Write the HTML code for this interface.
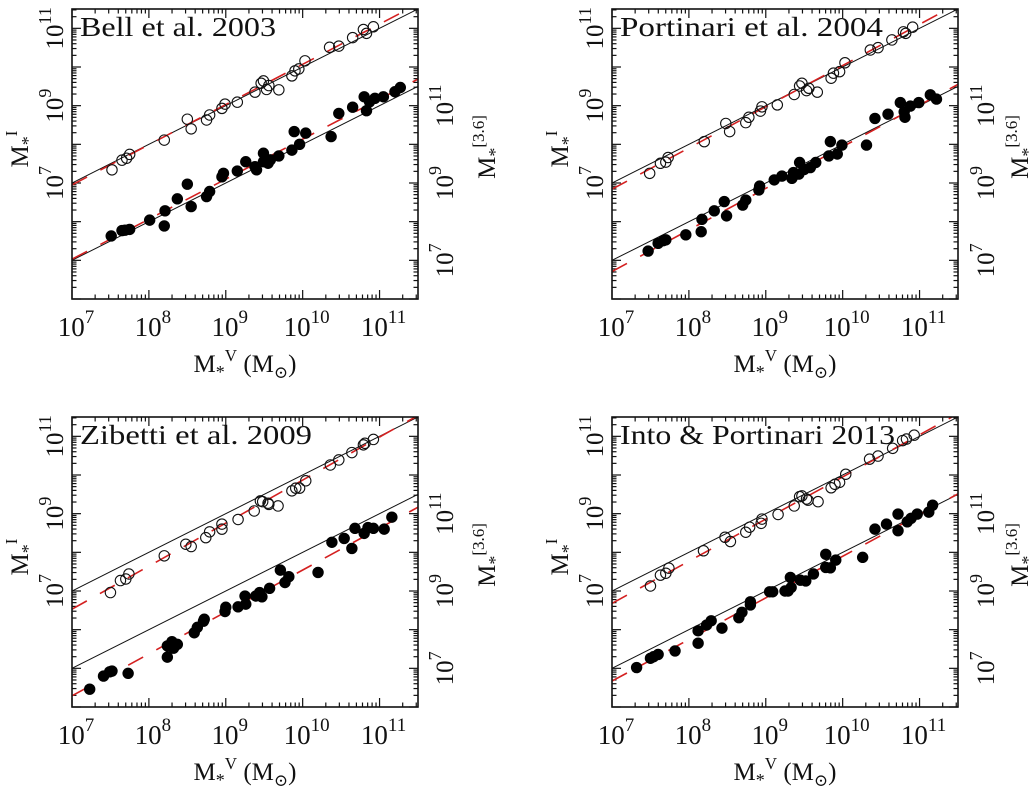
<!DOCTYPE html>
<html><head><meta charset="utf-8"><title>Stellar mass comparison</title>
<style>
html,body{margin:0;padding:0;background:#fff;}
svg{display:block;}
text{font-family:"Liberation Serif","DejaVu Serif",serif;fill:#111;}
</style></head>
<body>
<svg id="fig" width="1036" height="789" viewBox="0 0 1036 789" xmlns="http://www.w3.org/2000/svg"></svg>
<script>
// ---- data (log10 solar masses) ----
const panelTitles = ["Bell et al. 2003","Portinari et al. 2004","Zibetti et al. 2009","Into & Portinari 2013"];
const xTicks = [7,8,9,10,11];
const yLeftTicks = [7,9,11];
const yRightTicks = [7,9,11];

const bellOpenX = [7.52,7.65,7.71,7.75,8.20,8.50,8.55,8.75,8.79,8.95,8.99,9.15,9.38,9.46,9.49,9.53,9.56,9.69,9.86,9.90,9.95,10.03,10.35,10.47,10.65,10.79,10.83,10.92];
const bellOpenY = [7.34,7.59,7.64,7.74,8.11,8.65,8.40,8.63,8.76,8.93,9.04,9.09,9.35,9.58,9.64,9.42,9.52,9.41,9.77,9.90,9.95,10.16,10.51,10.54,10.76,10.97,10.87,11.04];
const bellFillX = [7.51,7.65,7.69,7.75,8.01,8.20,8.21,8.37,8.50,8.55,8.75,8.79,8.95,8.97,9.15,9.26,9.38,9.40,9.49,9.49,9.55,9.58,9.69,9.86,9.89,9.96,10.04,10.37,10.47,10.65,10.80,10.83,10.87,10.94,11.05,11.20,11.27];
const bellFillY = [7.63,7.77,7.78,7.80,8.04,7.89,8.28,8.59,8.97,8.39,8.65,8.78,9.16,9.25,9.31,9.55,9.42,9.34,9.77,9.55,9.51,9.60,9.70,9.85,10.33,10.00,10.29,10.20,10.80,10.96,11.23,10.87,11.10,11.19,11.23,11.36,11.47];
const bellFitOpen = [6.95,1.04];
const bellFitFill = [7.03,1.035];

const portOpenX = [7.49,7.63,7.70,7.73,8.20,8.48,8.53,8.74,8.78,8.93,8.95,9.15,9.37,9.44,9.47,9.53,9.56,9.67,9.85,9.88,9.96,10.03,10.36,10.46,10.64,10.79,10.82,10.91];
const portOpenY = [7.25,7.51,7.54,7.66,8.07,8.54,8.33,8.56,8.70,8.86,8.97,9.02,9.29,9.51,9.58,9.39,9.45,9.35,9.71,9.84,9.88,10.11,10.44,10.50,10.70,10.91,10.87,11.03];
const portFillX = [7.47,7.60,7.67,7.70,7.96,8.16,8.17,8.33,8.46,8.49,8.70,8.74,8.91,8.92,9.11,9.21,9.34,9.36,9.44,9.43,9.50,9.58,9.65,9.82,9.84,9.93,9.99,10.31,10.42,10.59,10.75,10.81,10.80,10.88,10.99,11.14,11.22];
const portFillY = [7.24,7.44,7.51,7.53,7.66,7.74,8.06,8.28,8.52,8.15,8.43,8.56,8.82,8.92,9.08,9.18,9.12,9.27,9.53,9.23,9.35,9.40,9.53,9.70,10.07,9.75,9.98,9.98,10.67,10.78,11.08,10.70,10.84,10.99,11.08,11.28,11.17];
const portFitOpen = [6.84,1.066];
const portFitFill = [6.71,1.076];

const zibOpenX = [7.50,7.63,7.70,7.74,8.20,8.48,8.55,8.74,8.79,8.95,8.95,9.16,9.37,9.45,9.48,9.55,9.56,9.68,9.86,9.91,9.96,10.04,10.36,10.47,10.64,10.79,10.81,10.92];
const zibOpenY = [6.96,7.27,7.31,7.44,7.91,8.21,8.15,8.38,8.53,8.60,8.73,8.85,9.07,9.33,9.31,9.27,9.24,9.20,9.59,9.66,9.66,9.85,10.26,10.39,10.58,10.78,10.82,10.92];
const zibFillX = [7.23,7.41,7.49,7.52,7.73,8.24,8.24,8.30,8.32,8.37,8.59,8.63,8.71,8.72,8.99,9.00,9.16,9.25,9.26,9.39,9.44,9.47,9.57,9.71,9.77,9.82,10.20,10.38,10.54,10.64,10.68,10.80,10.85,10.92,11.06,11.16];
const zibFillY = [6.46,6.80,6.91,6.93,6.87,7.58,7.29,7.69,7.52,7.62,7.92,8.06,8.22,8.27,8.47,8.58,8.59,8.87,8.66,8.87,8.96,8.85,9.07,9.54,9.22,9.37,9.48,10.26,10.36,10.10,10.62,10.49,10.64,10.62,10.60,10.91];
const zibFitOpen = [6.53,1.113];
const zibFitFill = [6.29,1.084];

const intoOpenX = [7.50,7.63,7.70,7.74,8.19,8.47,8.54,8.74,8.79,8.94,8.95,9.16,9.37,9.44,9.47,9.53,9.55,9.68,9.85,9.90,9.96,10.04,10.35,10.46,10.65,10.78,10.83,10.93];
const intoOpenY = [7.13,7.41,7.46,7.59,8.04,8.39,8.28,8.52,8.65,8.75,8.86,8.98,9.20,9.44,9.46,9.38,9.35,9.31,9.67,9.76,9.81,10.02,10.41,10.49,10.69,10.89,10.93,11.03];
const intoFillX = [7.32,7.50,7.54,7.60,7.82,8.12,8.12,8.23,8.29,8.43,8.65,8.69,8.80,8.80,9.05,9.09,9.25,9.29,9.33,9.32,9.45,9.52,9.62,9.78,9.78,9.84,9.91,10.26,10.42,10.57,10.72,10.72,10.84,10.89,10.97,11.12,11.17];
const intoFillY = [7.02,7.26,7.30,7.36,7.45,7.97,7.65,8.12,8.23,8.04,8.31,8.45,8.64,8.72,8.98,8.98,9.00,9.00,9.09,9.35,9.28,9.26,9.44,9.95,9.61,9.60,9.80,9.87,10.60,10.73,10.99,10.56,10.79,10.88,10.99,11.04,11.22];
const intoFitOpen = [6.68,1.09];
const intoFitFill = [6.67,1.076];

// ---- layout ----
const NS = "http://www.w3.org/2000/svg";
const svg = document.getElementById('fig');
const W = 346, H = 290, XMIN = 7, XMAX = 11.5, YMIN = 4, YMAX = 11.5, RIGHT_OFFSET = 2;
const panels = [
  {title:panelTitles[0], ox:72, oy:9, key:'bell', rt:35, rtt:77, oX:bellOpenX, oY:bellOpenY, fX:bellFillX, fY:bellFillY, fo:bellFitOpen, ff:bellFitFill, tl:196},
  {title:panelTitles[1], ox:612, oy:9, key:'portinari', rt:36, rtt:70, oX:portOpenX, oY:portOpenY, fX:portFillX, fY:portFillY, fo:portFitOpen, ff:portFitFill, tl:263},
  {title:panelTitles[2], ox:72, oy:417, key:'zibetti', rt:35, rtt:77, oX:zibOpenX, oY:zibOpenY, fX:zibFillX, fY:zibFillY, fo:zibFitOpen, ff:zibFitFill, tl:232},
  {title:panelTitles[3], ox:612, oy:417, key:'into-portinari', rt:36, rtt:70, oX:intoOpenX, oY:intoOpenY, fX:intoFillX, fY:intoFillY, fo:intoFitOpen, ff:intoFitFill, tl:275}
];
function mk(tag, attrs, parent){
  const e = document.createElementNS(NS, tag);
  for (const k in attrs) e.setAttribute(k, attrs[k]);
  (parent||svg).appendChild(e);
  return e;
}
function powLabel(parent, x, y, exp, rot, fs){
  const t = mk('text', {x:x, y:y, 'font-size':fs, 'text-anchor':'middle'}, parent);
  if (rot) t.setAttribute('transform', 'rotate(-90 '+x+' '+y+')');
  t.appendChild(document.createTextNode('10'));
  const s = mk('tspan', {'font-size':Math.round(fs*0.72), dy:-Math.round(fs*0.48)}, t);
  s.textContent = String(exp);
  return t;
}

panels.forEach((p, idx) => {
  const g = mk('g', {});
  
  
  const sx = v => p.ox + (v - XMIN) / (XMAX - XMIN) * W;
  const sy = v => p.oy + (YMAX - v) / (YMAX - YMIN) * H;
  const syR = v => sy(v - RIGHT_OFFSET);
  const clipId = 'clip' + idx;
  const cp = mk('clipPath', {id:clipId}, g);
  mk('rect', {x:p.ox, y:p.oy, width:W, height:H}, cp);

  // ticks
  const tg = mk('g', {stroke:'#111', 'stroke-width':1.2}, g);
  
  
  for (let d = 7; d <= 11; d++) {
    for (let m = 1; m <= 9; m++) {
      const v = d + Math.log10(m);
      if (v > XMAX) continue;
      const L = m === 1 ? 9 : 4.5, x = sx(v);
      mk('line', {x1:x, x2:x, y1:p.oy+H, y2:p.oy+H-L}, tg);
      mk('line', {x1:x, x2:x, y1:p.oy, y2:p.oy+L}, tg);
    }
  }
  for (let d = 4; d <= 11; d++) {
    for (let m = 1; m <= 9; m++) {
      const v = d + Math.log10(m);
      if (v > YMAX || v < YMIN) continue;
      const L = m === 1 ? 9 : 4.5, y = sy(v);
      mk('line', {x1:p.ox, x2:p.ox+L, y1:y, y2:y}, tg);
      mk('line', {x1:p.ox+W, x2:p.ox+W-L, y1:y, y2:y}, tg);
    }
  }

  // lines (clipped)
  const lg = mk('g', {'clip-path':'url(#'+clipId+')'}, g);
  const oneOpen = mk('line', {x1:sx(XMIN), y1:sy(XMIN), x2:sx(XMAX), y2:sy(XMAX), stroke:'#111', 'stroke-width':1}, lg);
  
  
  const oneFill = mk('line', {x1:sx(XMIN), y1:syR(XMIN), x2:sx(XMAX), y2:syR(XMAX), stroke:'#111', 'stroke-width':1}, lg);
  
  
  const fitO = mk('line', {x1:sx(XMIN), y1:sy(p.fo[0]), x2:sx(XMAX), y2:sy(p.fo[0]+p.fo[1]*(XMAX-XMIN)), stroke:'#d42020', 'stroke-width':1.6, 'stroke-dasharray':'17 15'}, lg);
  
  
  const fitF = mk('line', {x1:sx(XMIN), y1:syR(p.ff[0]), x2:sx(XMAX), y2:syR(p.ff[0]+p.ff[1]*(XMAX-XMIN)), stroke:'#d42020', 'stroke-width':1.6, 'stroke-dasharray':'17 15'}, lg);
  
  

  // points
  const og = mk('g', {'clip-path':'url(#'+clipId+')'}, g);
  
  
  p.oX.forEach((v, i) => {
    const c = mk('circle', {cx:sx(v), cy:sy(p.oY[i]), r:5.2, fill:'none', stroke:'#111', 'stroke-width':1.1}, og);
    
    
  });
  const fg = mk('g', {'clip-path':'url(#'+clipId+')'}, g);
  
  
  p.fX.forEach((v, i) => {
    const c = mk('circle', {cx:sx(v), cy:syR(p.fY[i]), r:5.7, fill:'#000'}, fg);
    
    
  });

  // frame
  const fr = mk('rect', {x:p.ox, y:p.oy, width:W, height:H, fill:'none', stroke:'#111', 'stroke-width':1.6}, g);
  
  

  // title
  const tt = mk('text', {x:p.ox+8, y:p.oy+27, 'font-size':27, textLength:p.tl, lengthAdjust:'spacingAndGlyphs'}, g);
  tt.textContent = p.title;
  
  

  // x tick labels
  xTicks.forEach(v => {
    const t = powLabel(g, sx(v)+4, p.oy+H+37, v, false, 27);
    
    
  });
  // x title
  const xt = mk('text', {x:p.ox+W/2, y:p.oy+H+73, 'font-size':25, 'text-anchor':'middle'}, g);
  
  
  xt.innerHTML = 'M<tspan font-size="18" dy="6">*</tspan><tspan font-size="17" dy="-17">V</tspan><tspan dy="11"> (M</tspan><tspan font-size="17" dy="6">⊙</tspan><tspan dy="-6">)</tspan>';

  // left y tick labels
  yLeftTicks.forEach(v => {
    const t = powLabel(g, p.ox-9, sy(v), v, true, 25);
    
    
  });
  const yt = mk('text', {x:p.ox-44, y:p.oy+140, 'font-size':25, 'text-anchor':'middle', transform:'rotate(-90 '+(p.ox-44)+' '+(p.oy+140)+')'}, g);
  
  
  yt.innerHTML = 'M<tspan font-size="18" dy="6">*</tspan><tspan font-size="17" dy="-17">I</tspan>';

  // right y tick labels
  yRightTicks.forEach(v => {
    const t = powLabel(g, p.ox+W+p.rt, syR(v), v, true, 25);
    
    
  });
  const rx = p.ox+W+p.rtt, ry = p.oy+138;
  const rt = mk('text', {x:rx, y:ry, 'font-size':25, 'text-anchor':'middle', transform:'rotate(-90 '+rx+' '+ry+')'}, g);
  
  
  rt.innerHTML = 'M<tspan font-size="18" dy="6">*</tspan><tspan font-size="17" dy="-17">[3.6]</tspan>';
});
</script>
</body></html>
